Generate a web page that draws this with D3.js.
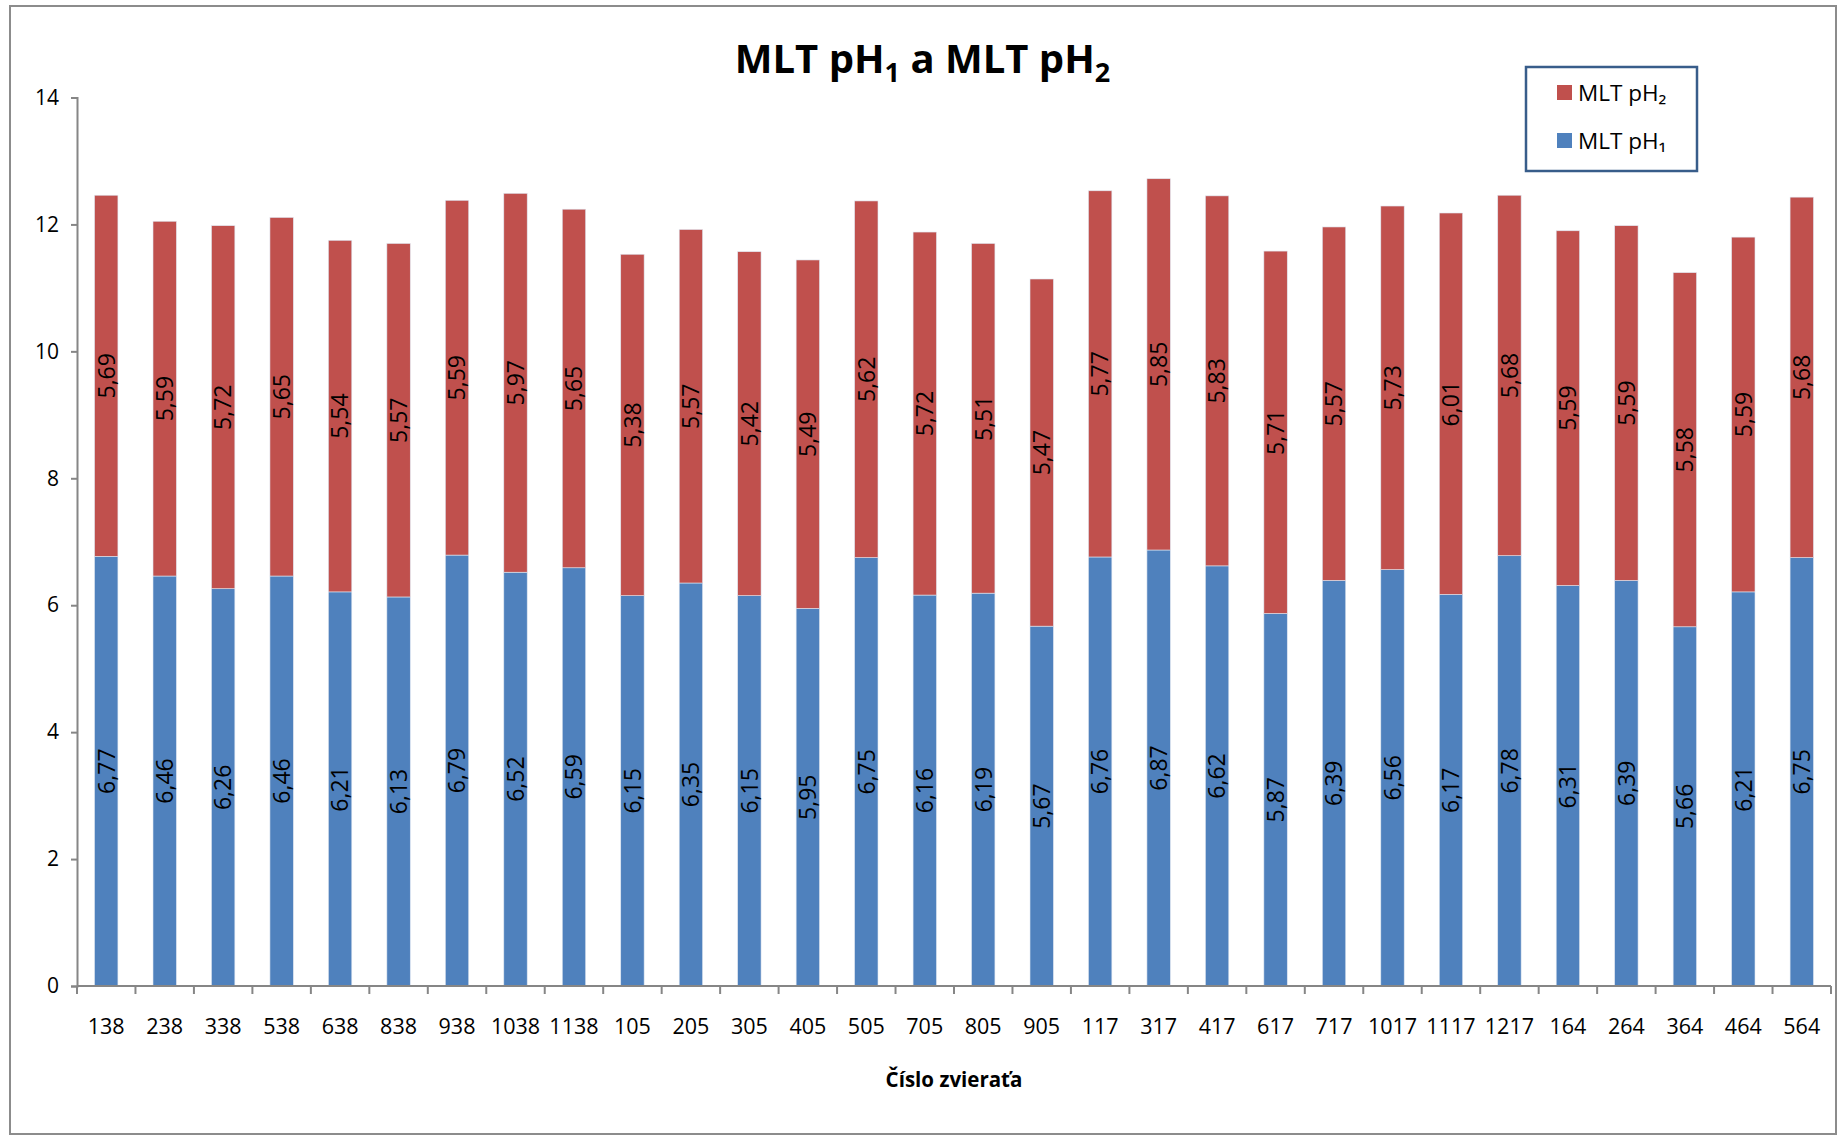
<!DOCTYPE html>
<html><head><meta charset="utf-8">
<script src="https://cdn.jsdelivr.net/npm/d3@7"></script>
<style>body{margin:0;background:#fff}</style>
</head><body>
<svg id="c" width="1845" height="1139"></svg>
<script>
const categories = ["138","238","338","538","638","838","938","1038","1138","105","205","305","405","505","705","805","905","117","317","417","617","717","1017","1117","1217","164","264","364","464","564"];
const ph1 = [6.77,6.46,6.26,6.46,6.21,6.13,6.79,6.52,6.59,6.15,6.35,6.15,5.95,6.75,6.16,6.19,5.67,6.76,6.87,6.62,5.87,6.39,6.56,6.17,6.78,6.31,6.39,5.66,6.21,6.75];
const ph2 = [5.69,5.59,5.72,5.65,5.54,5.57,5.59,5.97,5.65,5.38,5.57,5.42,5.49,5.62,5.72,5.51,5.47,5.77,5.85,5.83,5.71,5.57,5.73,6.01,5.68,5.59,5.59,5.58,5.59,5.68];
const yTicks = [0,2,4,6,8,10,12,14];
const seriesNames = ["MLT pH₁","MLT pH₂"];
const colors = ["#4F81BD","#C0504D"];

const svg = d3.select("#c");
const W = 1845, H = 1139;
const L = 77, R = 1831, T = 97.5, B = 986;
const font = "'Open Sans', sans-serif";

svg.append("rect").attr("x",10).attr("y",6).attr("width",1826).attr("height",1128)
  .attr("fill","#fff").attr("stroke","#8c8c8c").attr("stroke-width",2);

const x = d3.scaleBand().domain(categories).range([L,R]).paddingInner(0.6).paddingOuter(0.3);
const y = d3.scaleLinear().domain([0,14]).range([B,T]);

const rows = categories.map((c,i)=>({cat:c, v:[ph1[i], ph2[i]]}));
const stack = d3.stack().keys([0,1]).value((d,k)=>d.v[k])(rows);

const g = svg.append("g");
stack.forEach((layer,si)=>{
  g.selectAll(null).data(layer).enter().append("rect")
    .attr("x",d=>x(d.data.cat)).attr("width",x.bandwidth())
    .attr("y",d=>y(d[1])).attr("height",d=>y(d[0])-y(d[1]))
    .attr("fill",colors[si]).attr("stroke","#dfe7f1").attr("stroke-width",0.6);
});
stack.forEach((layer,si)=>{
  g.selectAll(null).data(layer).enter().append("text")
    .attr("transform",d=>`translate(${x(d.data.cat)+x.bandwidth()/2},${(y(d[0])+y(d[1]))/2}) rotate(-90)`)
    .attr("text-anchor","middle").attr("dy","0.36em")
    .attr("font-family",font).attr("font-size",23).attr("fill","#000")
    .text(d=>(d[1]-d[0]).toFixed(2).replace(".",","));
});

// Y axis
const yAxis = d3.axisLeft(y).tickValues(yTicks).tickSize(6).tickPadding(12).tickFormat(d=>d);
const ya = svg.append("g").attr("transform",`translate(${L},0)`).call(yAxis);
ya.select(".domain").attr("stroke","#868686").attr("stroke-width",2);
ya.selectAll(".tick line").attr("stroke","#868686").attr("stroke-width",2);
ya.selectAll(".tick text").attr("font-family",font).attr("font-size",21).attr("fill","#000");

// X axis
const xa = svg.append("g").attr("transform",`translate(0,${B})`);
xa.append("line").attr("x1",L).attr("x2",R).attr("y1",0).attr("y2",0).attr("stroke","#868686").attr("stroke-width",2);
const bounds = d3.range(categories.length+1).map(i=>L + i*(R-L)/categories.length);
xa.selectAll(null).data(bounds).enter().append("line")
  .attr("x1",d=>d).attr("x2",d=>d).attr("y1",0).attr("y2",8).attr("stroke","#868686").attr("stroke-width",2);
xa.selectAll(null).data(categories).enter().append("text")
  .attr("x",d=>x(d)+x.bandwidth()/2).attr("y",48).attr("text-anchor","middle")
  .attr("font-family",font).attr("font-size",21.5).attr("fill","#000").text(d=>d);

// Axis title
svg.append("text").attr("x",(L+R)/2).attr("y",1087).attr("text-anchor","middle")
  .attr("font-family",font).attr("font-weight","bold").attr("font-size",20.5).text("Číslo zvieraťa");

// Title
const t = svg.append("text").attr("x",W/2).attr("y",73).attr("text-anchor","middle")
  .attr("font-family",font).attr("font-weight","bold").attr("font-size",40);
t.append("tspan").text("MLT pH");
t.append("tspan").attr("font-size",27).attr("dy",9).text("1");
t.append("tspan").attr("dy",-9).text(" a MLT pH");
t.append("tspan").attr("font-size",27).attr("dy",9).text("2");

// Legend
const lg = svg.append("g");
lg.append("rect").attr("x",1526).attr("y",67).attr("width",171).attr("height",104)
  .attr("fill","#fff").attr("stroke","#385D8A").attr("stroke-width",2.5);
[1,0].forEach((si,i)=>{
  const yy = 93 + i*48;
  lg.append("rect").attr("x",1557).attr("y",yy-8).attr("width",15).attr("height",15).attr("fill",colors[si]);
  lg.append("text").attr("x",1578).attr("y",yy).attr("dy","0.35em")
    .attr("font-family",font).attr("font-size",22.5).attr("fill","#000").text(seriesNames[si]);
});
</script>
</body></html>
